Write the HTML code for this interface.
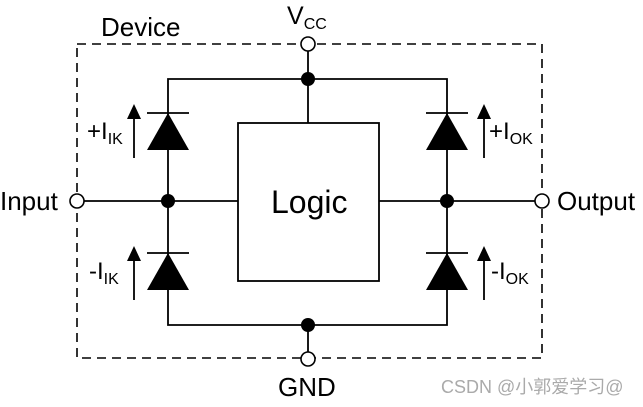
<!DOCTYPE html>
<html><head><style>
body{margin:0;background:#fff}
svg{display:block}
text{font-family:"Liberation Sans",Arial,sans-serif;fill:#000}
</style></head><body>
<svg width="643" height="407" viewBox="0 0 643 407" xmlns="http://www.w3.org/2000/svg">
<rect x="77" y="44" width="465" height="314" fill="none" stroke="#000" stroke-width="1.6" stroke-dasharray="9,6"/>
<g stroke="#000" stroke-width="1.8" fill="none">
<polyline points="168,201 168,79 447,79 447,201"/>
<polyline points="168,201 168,325 447,325 447,201"/>
<line x1="308" y1="51" x2="308" y2="123"/>
<line x1="308" y1="325" x2="308" y2="352"/>
<line x1="84" y1="201" x2="238" y2="201"/>
<line x1="379" y1="201" x2="535" y2="201"/>
<rect x="238" y="123" width="141" height="158"/>
<line x1="147" y1="113" x2="189" y2="113"/>
<line x1="147" y1="253" x2="189" y2="253"/>
<line x1="426" y1="113" x2="468" y2="113"/>
<line x1="426" y1="253" x2="468" y2="253"/>
<line x1="134" y1="158" x2="134" y2="115"/>
<line x1="134" y1="300" x2="134" y2="257"/>
<line x1="484" y1="158" x2="484" y2="115"/>
<line x1="484" y1="300" x2="484" y2="257"/>
</g>
<g fill="#000">
<polygon points="168,113 147,150 189,150"/>
<polygon points="168,253 147,290 189,290"/>
<polygon points="447,113 426,150 468,150"/>
<polygon points="447,253 426,290 468,290"/>
<polygon points="134,104 127,119 141,119"/>
<polygon points="134,246 127,261 141,261"/>
<polygon points="484,104 477,119 491,119"/>
<polygon points="484,246 477,261 491,261"/>
<circle cx="308" cy="79" r="7"/>
<circle cx="308" cy="325" r="7"/>
<circle cx="168" cy="201" r="7"/>
<circle cx="447" cy="201" r="7"/>
</g>
<g fill="#fff" stroke="#000" stroke-width="1.6">
<circle cx="308" cy="44" r="7"/>
<circle cx="308" cy="359" r="7"/>
<circle cx="77" cy="201" r="7"/>
<circle cx="542" cy="201" r="7"/>
</g>
<text x="101" y="36" font-size="26">Device</text>
<text x="287" y="24" font-size="25">V<tspan font-size="16" dy="5">CC</tspan></text>
<text x="278" y="396" font-size="26">GND</text>
<text x="0" y="210" font-size="26">Input</text>
<text x="557" y="210" font-size="26">Output</text>
<text x="271" y="213" font-size="32">Logic</text>
<text x="87" y="139" font-size="24">+I<tspan font-size="16" dy="5">IK</tspan></text>
<text x="89" y="279" font-size="24">-I<tspan font-size="16" dy="5">IK</tspan></text>
<text x="489" y="139" font-size="24">+I<tspan font-size="16" dy="5">OK</tspan></text>
<text x="491" y="279" font-size="24">-I<tspan font-size="16" dy="5">OK</tspan></text>
<text x="441" y="393" font-size="18" style="fill:#aaa;font-family:'Liberation Sans','Noto Sans CJK SC',sans-serif">CSDN @小郭爱学习@</text>
</svg>
</body></html>
